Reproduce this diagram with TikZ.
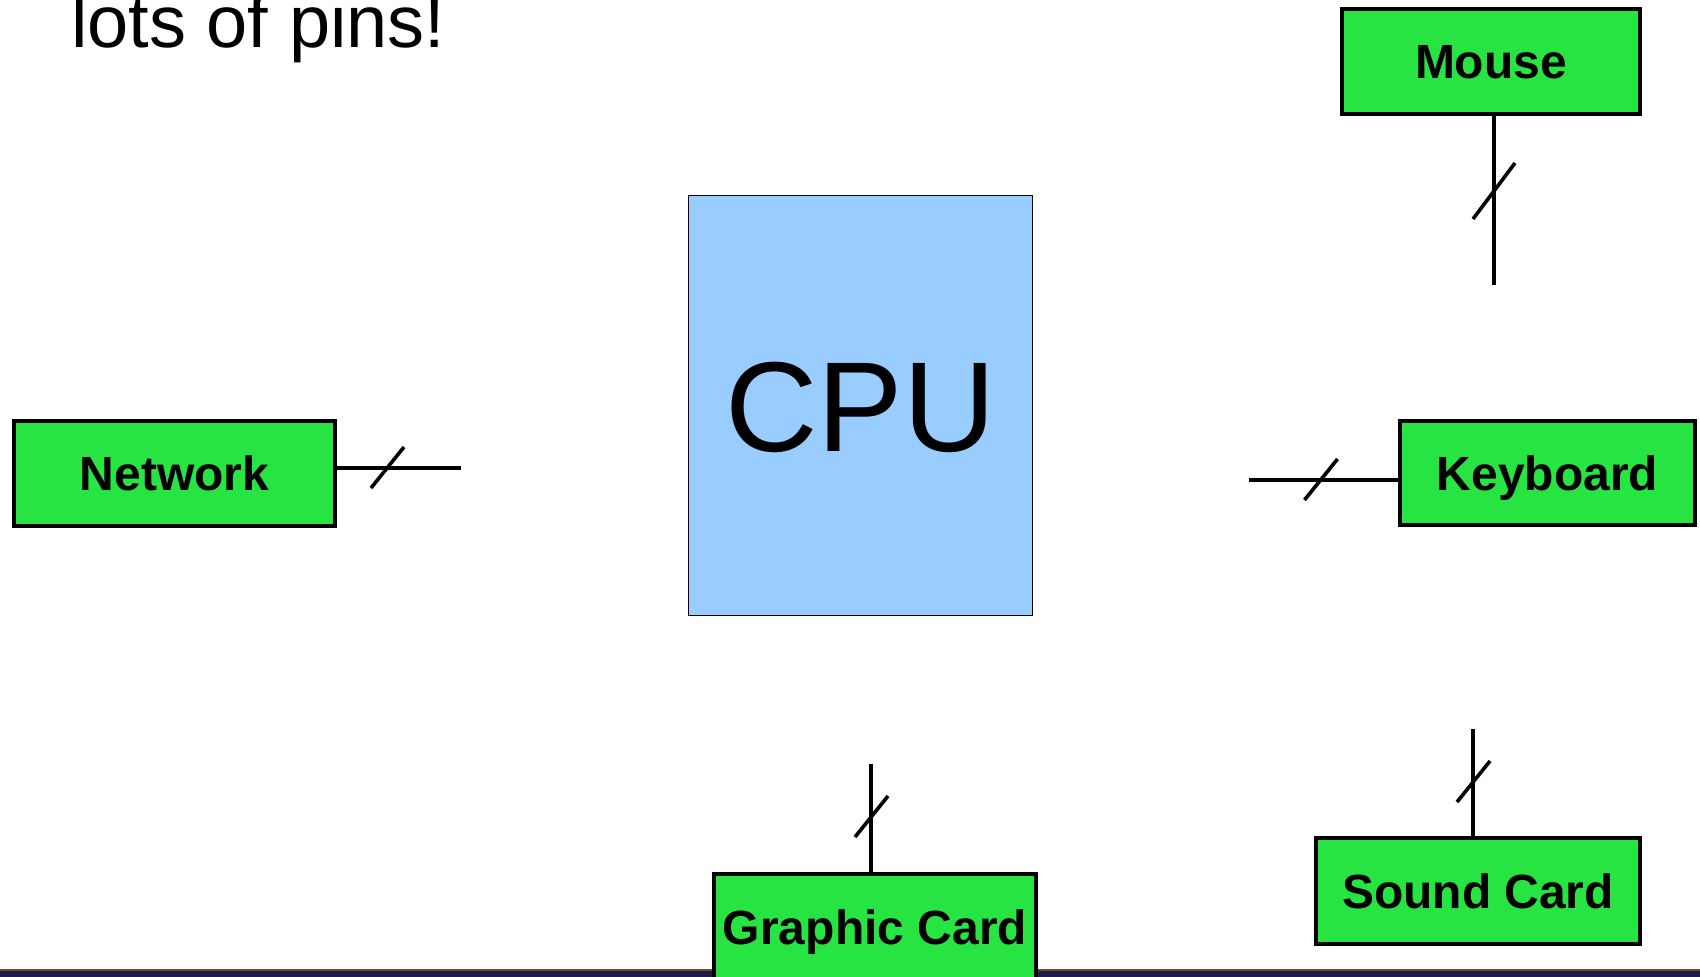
\documentclass[tikz,border=0pt]{standalone}
\usepackage{fontspec}
\setmainfont{Liberation Sans}
\definecolor{boxgreen}{HTML}{28E442}
\definecolor{cpublue}{HTML}{99CCFF}
\definecolor{barnavy}{HTML}{1C1C4E}
\definecolor{barbrown}{HTML}{7A4A1A}
\tikzset{
  dev/.style={draw=black, line width=4pt, fill=boxgreen, inner sep=0pt,
    text height=34.4pt, text depth=0pt,
    font=\fontsize{48}{52}\selectfont\bfseries},
  wire/.style={line width=3.6pt},
  slashmark/.style={line width=3.6pt}
}
\begin{document}
\begin{tikzpicture}[x=1pt,y=-1pt]
\useasboundingbox (0,0) rectangle (1700,977);
% bottom bar
\fill[barbrown] (0,968.5) rectangle (1700,971.5);
\fill[barnavy] (0,971) rectangle (1700,977);
% title
\node[anchor=base west, inner sep=0pt, font=\fontsize{74}{80}\selectfont] (title) at (71,47) {lots of pins!};
% CPU
\node[draw=black, line width=1.5pt, fill=cpublue, minimum width=344pt, minimum height=420pt,
  inner sep=0pt, text height=92pt, text depth=0pt, font=\fontsize{128}{140}\selectfont] (cpu) at (860.5,405.5) {CPU};
% devices
\node[dev, minimum width=298pt, minimum height=105pt] (mouse) at (1491,61.5) {Mouse};
\node[dev, minimum width=321pt, minimum height=105pt] (network) at (174.5,473.5) {Network};
\node[dev, minimum width=295pt, minimum height=104pt] (keyboard) at (1547.5,473) {Keyboard};
\node[dev, minimum width=324pt, minimum height=106pt] (sound) at (1478,891) {Sound Card};
\node[dev, minimum width=322pt, minimum height=106pt] (graphic) at (875,927) {Graphic Card};
% free ends of connectors
\coordinate (mc) at (1494,285);
\coordinate (nc) at (461,468);
\coordinate (kc) at (1249,480);
\coordinate (gc) at (871,764);
\coordinate (sc) at (1473,729);
% connectors
\draw[wire] (mc |- mouse.south) -- (mc);
\draw[wire] (nc -| network.east) -- (nc);
\draw[wire] (kc -| keyboard.west) -- (kc);
\draw[wire] (gc |- graphic.north) -- (gc);
\draw[wire] (sc |- sound.north) -- (sc);
% bus slashes
\draw[slashmark] (1494,191) ++(-21,28) -- ++(42,-56);
\draw[slashmark] (387.5,467.5) ++(-16.5,20.5) -- ++(33,-41);
\draw[slashmark] (1321,479.5) ++(-16.5,20.5) -- ++(33,-41);
\draw[slashmark] (871.5,816.5) ++(-16.5,20.5) -- ++(33,-41);
\draw[slashmark] (1473.5,781.5) ++(-16.5,20.5) -- ++(33,-41);
\end{tikzpicture}
\end{document}
